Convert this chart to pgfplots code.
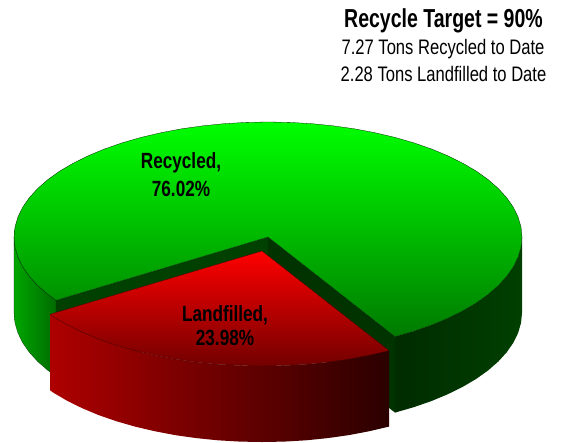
\documentclass[border=0pt]{standalone}
\usepackage{pgfplots}
\pgfplotsset{compat=1.18}
\usepackage{fontspec}
\setmainfont{Liberation Sans}
\newfontfamily\cond[FakeStretch=0.79]{Liberation Sans}
\newfontfamily\condb[FakeStretch=0.75]{Liberation Sans Bold}
\newfontfamily\condl[FakeStretch=0.78]{Liberation Sans Bold}
\begin{document}
\begin{tikzpicture}
\begin{axis}[
  scale only axis, width=561pt, height=442pt,
  xmin=0, xmax=561, ymin=0, ymax=442, y dir=reverse,
  hide axis, clip=false]
\path (axis cs:0,0) rectangle (axis cs:561,442);
% green outer wall, left
\addplot[draw=black!60!green!40!black, line width=0.2pt, left color=green!65!black, right color=green!42!black] coordinates {
(14,237)(15,247)(17.9,257)(22.7,266.8)(29.3,276.3)(37.8,285.6)(48,294.5)(56,300.3)
(56,376.3)(48,370.5)(37.8,361.6)(29.3,352.3)(22.7,342.8)(17.9,333)(15,323)(14,313)} -- cycle;
% green outer wall, right
\addplot[draw=none, left color=green!17!black, right color=green!25!black] coordinates {
(395,336.6)(413.7,331.2)(431.3,325.1)(447.6,318.3)(462.6,310.9)(476.1,303)(488,294.5)(498.2,285.6)(506.7,276.3)(513.3,266.8)(518.1,257)(521,247)(522,237)
(522,313)(521,323)(518.1,333)(513.3,342.8)(506.7,352.3)(498.2,361.6)(488,370.5)(476.1,379)(462.6,386.9)(447.6,394.3)(431.3,401.1)(413.7,407.2)(395,412.6)} -- cycle;
% cut walls
\addplot[draw=none, fill=green!25!black] coordinates {(268,237)(56,300.3)(56,376.3)(268,313)} -- cycle;
\addplot[draw=none, fill=green!20!black] coordinates {(268,237)(395,336.6)(395,412.6)(268,313)} -- cycle;
% green top
\addplot[draw=black!65!green!40!black, line width=0.3pt, top color=green, middle color=green!82!black, bottom color=green!48!black] coordinates {
(268,237)(395,336.6)(413.7,331.2)(431.3,325.1)(447.6,318.3)(462.6,310.9)(476.1,303)(488,294.5)(498.2,285.6)(506.7,276.3)(513.3,266.8)(518.1,257)(521,247)(522,237)
(521,227)(518.1,217)(513.3,207.2)(506.7,197.7)(498.2,188.4)(488,179.5)(476.1,171)(462.6,163.1)(447.6,155.7)(431.3,148.9)(413.7,142.8)(395,137.4)(375.3,132.8)(354.9,128.9)(333.7,125.9)(312.1,123.7)(290.1,122.4)(268,122)
(245.9,122.4)(223.9,123.7)(202.3,125.9)(181.1,128.9)(160.7,132.8)(141,137.4)(122.3,142.8)(104.7,148.9)(88.4,155.7)(73.4,163.1)(59.9,171)(48,179.5)(37.8,188.4)(29.3,197.7)(22.7,207.2)(17.9,217)(15,227)(14,237)
(15,247)(17.9,257)(22.7,266.8)(29.3,276.3)(37.8,285.6)(48,294.5)(56,300.3)} -- cycle;
% red wall
\addplot[draw=none, left color=red!68!black, middle color=red!28!black, right color=red!17!black] coordinates {
(50,314.3)(53.9,317)(67.4,324.9)(82.4,332.3)(98.7,339.1)(116.3,345.2)(135,350.6)(154.7,355.2)(175.1,359.1)(196.3,362.1)(217.9,364.3)(239.9,365.6)(262,366)(284.1,365.6)(306.1,364.3)(327.7,362.1)(348.9,359.1)(369.3,355.2)(389,350.6)
(389,426.6)(369.3,431.2)(348.9,435.1)(327.7,438.1)(306.1,440.3)(284.1,441.6)(262,442)(239.9,441.6)(217.9,440.3)(196.3,438.1)(175.1,435.1)(154.7,431.2)(135,426.6)(116.3,421.2)(98.7,415.1)(82.4,408.3)(67.4,400.9)(53.9,393)(50,390.3)} -- cycle;
% red top
\addplot[draw=black!70!red, line width=0.3pt, top color=red, bottom color=red!45!black] coordinates {
(262,251)(50,314.3)(53.9,317)(67.4,324.9)(82.4,332.3)(98.7,339.1)(116.3,345.2)(135,350.6)(154.7,355.2)(175.1,359.1)(196.3,362.1)(217.9,364.3)(239.9,365.6)(262,366)(284.1,365.6)(306.1,364.3)(327.7,362.1)(348.9,359.1)(369.3,355.2)(389,350.6)} -- cycle;
% texts
\node[anchor=center, font=\condb\fontsize{26}{28}\selectfont] at (axis cs:443.5,21) {Recycle Target = 90\%};
\node[anchor=center, font=\cond\fontsize{21}{22}\selectfont] at (axis cs:443,49) {7.27 Tons Recycled to Date};
\node[anchor=center, font=\cond\fontsize{21}{22}\selectfont] at (axis cs:443.5,74) {2.28 Tons Landfilled to Date};
\node[anchor=center, font=\condl\fontsize{22}{24}\selectfont] at (axis cs:181,163) {Recycled,};
\node[anchor=center, font=\condl\fontsize{22}{24}\selectfont] at (axis cs:181,189) {76.02\%};
\node[anchor=center, font=\condl\fontsize{22}{24}\selectfont] at (axis cs:225,315) {Landfilled,};
\node[anchor=center, font=\condl\fontsize{22}{24}\selectfont] at (axis cs:225,338) {23.98\%};
\end{axis}
\end{tikzpicture}
\end{document}
